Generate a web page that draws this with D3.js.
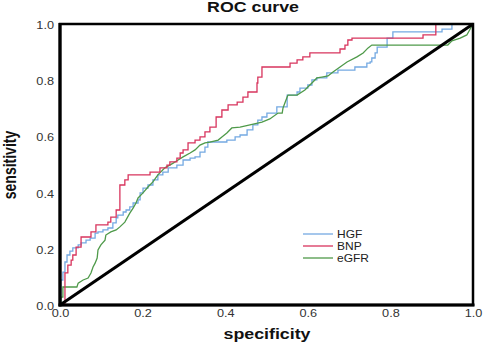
<!DOCTYPE html>
<html>
<head>
<meta charset="utf-8">
<script src="https://cdn.jsdelivr.net/npm/d3@7"></script>
<style>
html,body{margin:0;padding:0;background:#fff;}
svg{display:block;font-family:"Liberation Sans",Arial,sans-serif;}
</style>
</head>
<body>
<svg id="chart" width="484" height="347"></svg>
<script>
// ---- data ----
const seriesNames = ["HGF", "BNP", "eGFR"];
const tickValues = [0, 0.2, 0.4, 0.6, 0.8, 1.0];
const tickLabels = ["0.0", "0.2", "0.4", "0.6", "0.8", "1.0"];

// HGF: staircase, points where the curve jumps up (x = 1 - specificity, y = sensitivity)
const hgfX = [0, .002, .007, .012, .017, .024, .031, .044, .051, .063, .073, .085, .092, .104, .116, .128, .136, .140, .153, .160, .169, .177, .189, .194, .201, .213, .225, .237, .249, .262, .283, .298, .315, .327, .339, .351, .358, .404, .424, .436, .453, .467, .479, .489, .501, .525, .550, .574, .581, .600, .610, .622, .646, .673, .714, .743, .751, .755, .763, .768, .792, .806, .925, .949, 1];
const hgfY = [0, .089, .117, .153, .178, .192, .203, .214, .221, .231, .238, .256, .260, .267, .274, .292, .310, .320, .331, .338, .349, .363, .374, .399, .416, .427, .445, .463, .473, .488, .498, .516, .523, .527, .544, .562, .580, .587, .598, .605, .623, .641, .658, .669, .683, .705, .747, .758, .772, .783, .801, .808, .826, .836, .847, .861, .865, .879, .897, .918, .950, .972, .982, 1, 1];

// BNP: staircase
const bnpX = [0, .012, .019, .027, .031, .039, .051, .075, .087, .116, .123, .136, .145, .157, .165, .218, .242, .259, .266, .283, .291, .298, .310, .327, .339, .351, .363, .378, .392, .407, .429, .443, .455, .477, .479, .489, .557, .574, .588, .605, .678, .690, .697, .707, .879, .910, 1];
const bnpY = [0, .114, .142, .160, .178, .206, .242, .260, .285, .295, .313, .338, .427, .445, .463, .473, .488, .498, .509, .523, .541, .552, .577, .587, .598, .616, .633, .669, .694, .712, .722, .740, .758, .790, .811, .847, .861, .872, .883, .897, .911, .925, .943, .950, .961, 1, 1];

// eGFR: vertices of the polyline
const egfrX = [0, .002, .002, .007, .007, .041, .044, .056, .068, .075, .080, .085, .090, .092, .099, .109, .111, .123, .136, .145, .157, .169, .177, .184, .189, .201, .213, .225, .237, .254, .274, .286, .298, .315, .327, .339, .351, .363, .383, .392, .404, .416, .436, .460, .489, .508, .528, .538, .540, .550, .552, .574, .593, .610, .622, .634, .649, .661, .678, .695, .719, .734, .746, .755, .939, .949, .969, .985, 1];
const egfrY = [0, 0, .028, .028, .064, .064, .078, .089, .096, .114, .135, .149, .167, .196, .214, .231, .249, .260, .267, .278, .295, .327, .345, .363, .381, .399, .420, .438, .463, .488, .505, .516, .527, .541, .552, .569, .577, .580, .587, .598, .612, .630, .633, .641, .651, .662, .683, .683, .701, .740, .747, .747, .765, .790, .808, .811, .815, .829, .847, .865, .883, .897, .915, .925, .925, .940, .950, .961, 1];

const colors = {HGF: "#74a9e2", BNP: "#d8345d", eGFR: "#4f9a4a"};

// ---- layout ----
const svg = d3.select("#chart");
const mLeft = 60, mRight = 473, mTop = 24, mBottom = 305;
const sx = 1.27; // horizontal stretch of text seen in reference
const x = d3.scaleLinear().domain([0, 1]).range([mLeft, mRight]);
const y = d3.scaleLinear().domain([0, 1]).range([mBottom, mTop]);

// title
svg.append("text")
  .attr("transform", `translate(253,12) scale(${sx},1)`)
  .attr("text-anchor", "middle")
  .attr("font-size", 14).attr("font-weight", "bold").attr("fill", "#111")
  .text("ROC curve");

// axis titles
svg.append("text")
  .attr("transform", `translate(267,339) scale(${sx},1)`)
  .attr("text-anchor", "middle")
  .attr("font-size", 14).attr("font-weight", "bold").attr("fill", "#111")
  .text("specificity");
svg.append("text")
  .attr("transform", `translate(16,165) scale(${sx},1) rotate(-90)`)
  .attr("text-anchor", "middle")
  .attr("font-size", 14).attr("font-weight", "bold").attr("fill", "#111")
  .text("sensitivity");

// axes (labels only)
const xAxis = d3.axisBottom(x).tickValues(tickValues)
  .tickFormat((d, i) => tickLabels[i]).tickSize(0).tickPadding(5);
const gx = svg.append("g").attr("transform", `translate(0,${mBottom})`).call(xAxis);
gx.select(".domain").remove();
gx.selectAll("text").attr("font-size", 10).attr("fill", "#333")
  .attr("font-family", "Liberation Sans, Arial, sans-serif")
  .attr("transform", `scale(${sx},1)`);

const yAxis = d3.axisLeft(y).tickValues(tickValues)
  .tickFormat((d, i) => tickLabels[i]).tickSize(0).tickPadding(0);
const gy = svg.append("g").attr("transform", `translate(${mLeft},0)`).call(yAxis);
gy.select(".domain").remove();
gy.selectAll("text").attr("font-size", 10).attr("fill", "#333")
  .attr("font-family", "Liberation Sans, Arial, sans-serif")
  .attr("x", -6 / sx).attr("dy", "0.45em")
  .attr("transform", `scale(${sx},1)`);

// curves
const stepLine = d3.line().x(d => x(d[0])).y(d => y(d[1])).curve(d3.curveStepAfter);
const polyLine = d3.line().x(d => x(d[0])).y(d => y(d[1]));
const zip = (a, b) => a.map((v, i) => [v, b[i]]);

const plot = svg.append("g");
plot.append("path").datum(zip(hgfX, hgfY)).attr("d", stepLine)
  .attr("fill", "none").attr("stroke", colors.HGF).attr("stroke-width", 1.3);
plot.append("path").datum(zip(egfrX, egfrY)).attr("d", polyLine)
  .attr("fill", "none").attr("stroke", colors.eGFR).attr("stroke-width", 1.3);
plot.append("path").datum(zip(bnpX, bnpY)).attr("d", stepLine)
  .attr("fill", "none").attr("stroke", colors.BNP).attr("stroke-width", 1.3);

// diagonal reference line
plot.append("line")
  .attr("x1", x(0)).attr("y1", y(0)).attr("x2", x(1)).attr("y2", y(1))
  .attr("stroke", "#000").attr("stroke-width", 3);

// frame
svg.append("rect")
  .attr("x", x(0)).attr("y", y(1)).attr("width", x(1) - x(0)).attr("height", y(0) - y(1))
  .attr("fill", "none").attr("stroke", "#000").attr("stroke-width", 2.5);
svg.append("line").attr("x1", x(0)).attr("x2", x(0)).attr("y1", y(1) - 1).attr("y2", y(0) + 1.5)
  .attr("stroke", "#000").attr("stroke-width", 3.2);
svg.append("line").attr("x1", x(0) - 1.5).attr("x2", x(1) + 1.5).attr("y1", y(0)).attr("y2", y(0))
  .attr("stroke", "#000").attr("stroke-width", 3.2);

// legend
const legend = svg.append("g");
seriesNames.forEach((name, i) => {
  const ly = 234 + i * 12;
  legend.append("line").attr("x1", 303).attr("x2", 333).attr("y1", ly).attr("y2", ly)
    .attr("stroke", colors[name]).attr("stroke-width", 1.3);
  legend.append("text")
    .attr("transform", `translate(337,${ly + 3.6}) scale(1.2,1)`)
    .attr("font-size", 10).attr("fill", "#222")
    .text(name);
});
</script>
</body>
</html>
